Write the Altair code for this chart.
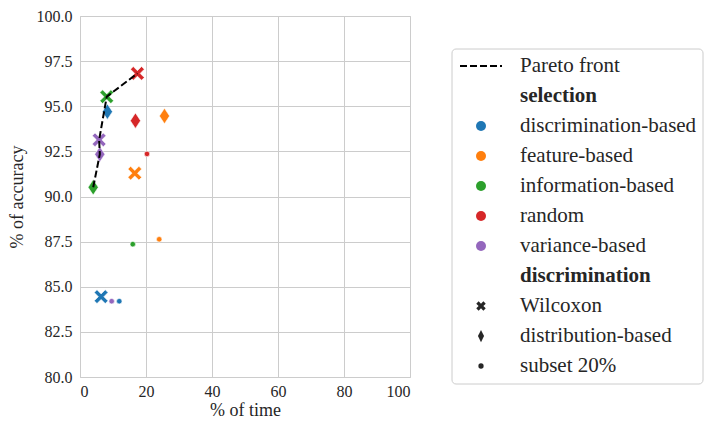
import altair as alt
import pandas as pd

# ---- data ----
selection_names = ["discrimination-based", "feature-based", "information-based", "random", "variance-based"]
selection_colors = ["#1f77b4", "#ff7f0e", "#2ca02c", "#d62728", "#9467bd"]
discrimination_names = ["Wilcoxon", "distribution-based", "subset 20%"]

selection = (["discrimination-based"] * 3 + ["feature-based"] * 3 + ["information-based"] * 3
             + ["random"] * 3 + ["variance-based"] * 3)
discrimination = ["Wilcoxon", "distribution-based", "subset 20%"] * 5
time_pct = [6.4, 8.3, 11.9, 16.6, 25.6, 24.0, 8.1, 4.0, 16.0, 17.4, 16.8, 20.3, 5.8, 6.0, 9.6]
accuracy = [84.45, 94.70, 84.2, 91.29, 94.46, 87.63, 95.53, 90.51, 87.36, 96.82, 94.20, 92.36, 93.14, 92.34, 84.2]

pareto_time = [4.0, 6.0, 5.8, 8.1, 17.4]
pareto_acc = [90.51, 92.34, 93.14, 95.53, 96.82]

x_ticks = [0, 20, 40, 60, 80, 100]
y_ticks = [80, 82.5, 85, 87.5, 90, 92.5, 95, 97.5, 100]

legend_labels = ["Pareto front", "selection"] + selection_names + ["discrimination"] + discrimination_names
legend_kind = ["line", "header"] + ["color"] * 5 + ["header"] + ["shape"] * 3

# ---- marker shapes ----
X_PATH = ("M-1,-0.6L-0.6,-1L0,-0.4L0.6,-1L1,-0.6L0.4,0L1,0.6L0.6,1L0,0.4"
          "L-0.6,1L-1,0.6L-0.4,0Z")
DIAMOND_PATH = "M0,-1L0.66,0L0,1L-0.66,0Z"
X_PATH_LEG = ("M-1,-0.5L-0.5,-1L0,-0.5L0.5,-1L1,-0.5L0.5,0L1,0.5L0.5,1L0,0.5"
              "L-0.5,1L-1,0.5L-0.5,0Z")
DIAMOND_PATH_LEG = "M0,-1L0.5,0L0,1L-0.5,0Z"

FONT = "Liberation Serif"
TXT = "#262626"

df = pd.DataFrame({"selection": selection, "discrimination": discrimination,
                   "time": time_pct, "accuracy": accuracy})
pf = pd.DataFrame({"time": pareto_time, "accuracy": pareto_acc})
lg = pd.DataFrame({"label": legend_labels, "kind": legend_kind, "row": list(range(len(legend_labels)))})

xs = alt.Scale(domain=[0, 100], nice=False)
ys = alt.Scale(domain=[80, 100], nice=False, zero=False)
color_scale = alt.Scale(domain=selection_names, range=selection_colors)
shape_scale = alt.Scale(domain=discrimination_names, range=[X_PATH, DIAMOND_PATH, "circle"])

points = alt.Chart(df).mark_point(filled=True, opacity=1, stroke="white", strokeWidth=0.6).encode(
    x=alt.X("time:Q", scale=xs, title="% of time",
            axis=alt.Axis(values=x_ticks, format="d", labelPadding=6, titlePadding=2)),
    y=alt.Y("accuracy:Q", scale=ys, title="% of accuracy",
            axis=alt.Axis(values=y_ticks, format=".1f", labelPadding=8, titlePadding=10)),
    color=alt.Color("selection:N", scale=color_scale, legend=None),
    shape=alt.Shape("discrimination:N", scale=shape_scale, legend=None),
    size=alt.Size("discrimination:N",
                  scale=alt.Scale(type="ordinal", domain=discrimination_names, range=[190, 240, 30]),
                  legend=None),
)

front = alt.Chart(pf).mark_line(color="black", strokeDash=[7, 3], strokeWidth=2).encode(
    x=alt.X("time:Q", scale=xs),
    y=alt.Y("accuracy:Q", scale=ys),
    order=alt.Order("accuracy:Q"),
)

scatter = alt.layer(points, front).properties(
    width=330, height=361,
    view=alt.ViewBackground(stroke="#cccccc", strokeWidth=1),
)

# ---- hand-made legend panel ----
ly = alt.Scale(domain=[-1.6667, 10.6333], reverse=True)

frame = alt.Chart(pd.DataFrame({"a": [0]})).mark_rect(
    fill="white", stroke="#cccccc", strokeWidth=1, cornerRadius=4
).encode(x=alt.value(0), x2=alt.value(251), y=alt.value(33), y2=alt.value(368))

base = alt.Chart(lg)
leg_line = base.transform_filter("datum.kind == 'line'").mark_rule(
    color="black", strokeDash=[7, 3], strokeWidth=2
).encode(y=alt.Y("row:Q", scale=ly, axis=None), x=alt.value(8), x2=alt.value(50))

leg_color = base.transform_filter("datum.kind == 'color'").mark_point(
    filled=True, opacity=1, shape="circle", size=100
).encode(y=alt.Y("row:Q", scale=ly, axis=None), x=alt.value(29),
         color=alt.Color("label:N", scale=color_scale, legend=None))

leg_shape = base.transform_filter("datum.kind == 'shape'").mark_point(
    filled=True, opacity=1, color=TXT
).encode(y=alt.Y("row:Q", scale=ly, axis=None), x=alt.value(29),
         shape=alt.Shape("label:N",
                         scale=alt.Scale(domain=discrimination_names,
                                         range=[X_PATH_LEG, DIAMOND_PATH_LEG, "circle"]),
                         legend=None),
         size=alt.Size("label:N",
                       scale=alt.Scale(type="ordinal", domain=discrimination_names, range=[90, 150, 28]),
                       legend=None))

leg_text = base.transform_filter("datum.kind != 'header'").mark_text(
    align="left", baseline="middle", font=FONT, fontSize=21, color=TXT
).encode(y=alt.Y("row:Q", scale=ly, axis=None), x=alt.value(68), text="label:N")

leg_head = base.transform_filter("datum.kind == 'header'").mark_text(
    align="left", baseline="middle", font=FONT, fontSize=21, fontWeight="bold", color=TXT
).encode(y=alt.Y("row:Q", scale=ly, axis=None), x=alt.value(68), text="label:N")

legend = alt.layer(frame, leg_line, leg_color, leg_shape, leg_text, leg_head).properties(
    width=251, height=369,
    view=alt.ViewBackground(strokeWidth=0),
)

chart = alt.hconcat(scatter, legend, spacing=42, bounds="flush").resolve_scale(
    shape="independent", size="independent", color="independent"
).properties(
    padding={"left": 7, "top": 7, "right": 0, "bottom": 0}
).configure(font=FONT).configure_axis(
    domain=False, ticks=False, grid=True, gridColor="#cccccc", gridWidth=1,
    labelFont=FONT, labelFontSize=16, labelColor=TXT,
    titleFont=FONT, titleFontSize=18, titleFontWeight="normal", titleColor=TXT,
).configure_view(stroke="#cccccc")

chart.save("out.html", embed_options={"renderer": "svg", "actions": False})
